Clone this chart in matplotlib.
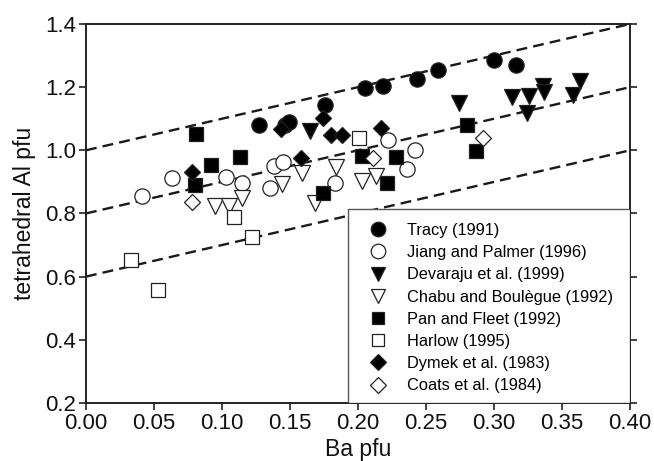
import matplotlib
matplotlib.use("Agg")
import matplotlib.pyplot as plt
from matplotlib.patches import Rectangle

plt.rcParams['font.family'] = ['Liberation Sans', 'DejaVu Sans']

# ---- data ----
tracy_x = [0.127, 0.146, 0.149, 0.176, 0.205, 0.218, 0.243, 0.259, 0.300, 0.316]
tracy_y = [1.079, 1.080, 1.090, 1.144, 1.197, 1.202, 1.225, 1.255, 1.285, 1.271]

jiang_x = [0.041, 0.063, 0.103, 0.115, 0.135, 0.138, 0.145, 0.183, 0.222, 0.236, 0.242]
jiang_y = [0.855, 0.913, 0.916, 0.897, 0.879, 0.950, 0.962, 0.895, 1.033, 0.940, 1.001]

devaraju_x = [0.165, 0.274, 0.313, 0.326, 0.324, 0.336, 0.337, 0.358, 0.363]
devaraju_y = [1.061, 1.149, 1.170, 1.172, 1.117, 1.204, 1.186, 1.176, 1.220]

chabu_x = [0.095, 0.105, 0.115, 0.144, 0.159, 0.168, 0.184, 0.203, 0.213]
chabu_y = [0.825, 0.825, 0.848, 0.892, 0.928, 0.833, 0.948, 0.902, 0.917]

pan_x = [0.081, 0.080, 0.092, 0.113, 0.174, 0.203, 0.228, 0.221, 0.280, 0.287]
pan_y = [1.052, 0.890, 0.953, 0.980, 0.866, 0.982, 0.980, 0.897, 1.080, 0.999]

harlow_x = [0.033, 0.053, 0.109, 0.122, 0.201]
harlow_y = [0.652, 0.557, 0.789, 0.724, 1.040]

dymek_x = [0.078, 0.143, 0.158, 0.174, 0.180, 0.188, 0.217]
dymek_y = [0.932, 1.067, 0.975, 1.103, 1.049, 1.049, 1.070]

coats_x = [0.078, 0.211, 0.292]
coats_y = [0.837, 0.976, 1.040]

labels = ["Tracy (1991)", "Jiang and Palmer (1996)", "Devaraju et al. (1999)",
          "Chabu and Boulègue (1992)", "Pan and Fleet (1992)", "Harlow (1995)",
          "Dymek et al. (1983)", "Coats et al. (1984)"]

# reference lines y = intercept + slope * x
line_slope = 1.0
line_intercepts = [1.0, 0.8, 0.6]
line_x = [0.0, 0.4]

xticks = [0.00, 0.05, 0.10, 0.15, 0.20, 0.25, 0.30, 0.35, 0.40]
yticks = [0.2, 0.4, 0.6, 0.8, 1.0, 1.2, 1.4]

# ---- plot ----
fig = plt.figure(figsize=(6.54, 4.61), dpi=100)
ax = fig.add_axes([0.1315, 0.126, 0.832, 0.822])

for b in line_intercepts:
    ax.plot(line_x, [b + line_slope * xv for xv in line_x], color='#1a1a1a',
            lw=1.7, ls=(0, (4.6, 2.6)), zorder=1)

series = [
    (tracy_x, tracy_y, 'o', 'black', 11),
    (jiang_x, jiang_y, 'o', 'white', 11),
    (devaraju_x, devaraju_y, 'v', 'black', 11),
    (chabu_x, chabu_y, 'v', 'white', 11),
    (pan_x, pan_y, 's', 'black', 9.5),
    (harlow_x, harlow_y, 's', 'white', 9.5),
    (dymek_x, dymek_y, 'D', 'black', 8.5),
    (coats_x, coats_y, 'D', 'white', 8.5),
]
for (xs, ys, m, fc, ms), lab in zip(series, labels):
    ax.plot(xs, ys, ls='none', marker=m, markersize=ms, markerfacecolor=fc,
            markeredgecolor='#222222', markeredgewidth=0.9, label=lab, zorder=3)

ax.set_xlim(0.0, 0.4)
ax.set_ylim(0.2, 1.4)
ax.set_xticks(xticks)
ax.set_xticklabels([f"{v:.2f}" for v in xticks])
ax.set_yticks(yticks)
ax.set_yticklabels([f"{v:.1f}" for v in yticks])
ax.tick_params(axis='both', labelsize=16, direction='out', length=5, width=1.2,
               colors='#222222', labelcolor='#111111', pad=2)
ax.tick_params(axis='y', right=True, labelright=False)
for s in ax.spines.values():
    s.set_linewidth(1.4)
    s.set_color('#222222')

ax.set_xlabel("Ba pfu", fontsize=16.5, labelpad=3, color='#111111')
ax.set_ylabel("tetrahedral Al pfu", fontsize=16.5, labelpad=7, color='#111111')

# legend frame
ax.add_patch(Rectangle((0.482, 0.0), 0.518, 0.512, transform=ax.transAxes,
                       facecolor='white', edgecolor='#555555', lw=1.0, zorder=4))
leg_handles = []
for (xs, ys, m, fc, ms) in series:
    leg_handles.append(plt.Line2D([], [], ls='none', marker=m, markersize=ms * 0.95,
                                  markerfacecolor=fc, markeredgecolor='#222222',
                                  markeredgewidth=0.9))
leg = ax.legend(leg_handles, labels, loc='upper left', bbox_to_anchor=(0.522, 0.475),
                frameon=False, fontsize=11.8, labelspacing=0.44, handlelength=1.0,
                handletextpad=1.25, borderaxespad=0, borderpad=0)
leg.set_zorder(5)

fig.savefig("out.png", dpi=100, facecolor='white')
